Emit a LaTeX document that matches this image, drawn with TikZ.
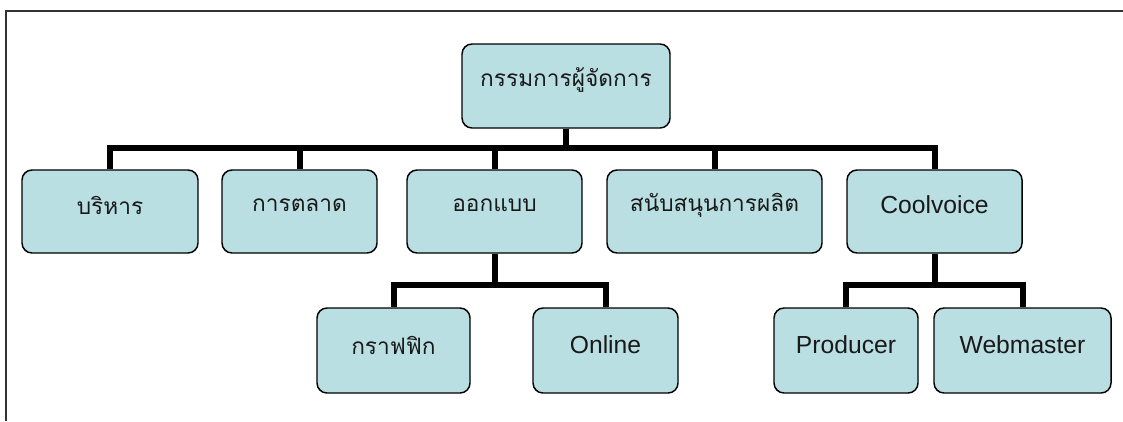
\documentclass[tikz,border=0pt]{standalone}
\usepackage{fontspec}
\setmainfont{Liberation Sans}
\newfontfamily\thaifont[Script=Thai]{Loma}
\definecolor{boxfill}{HTML}{BADFE3}
\definecolor{framecol}{HTML}{333333}
\begin{document}
\begin{tikzpicture}[x=0.75pt,y=-0.75pt,
  box/.style={draw=black,line width=1.1pt,fill=boxfill,rounded corners=7.5pt,
    minimum height=#1*0.75pt,inner sep=0pt},
  lbl/.style={font=\fontsize{17}{20}\selectfont,inner sep=0pt,text=black!90},
  latin/.style={font=\fontsize{18.5}{22}\selectfont,inner sep=0pt,text=black!90},
  conn/.style={line width=4.5pt,black}]
\useasboundingbox (0,0) rectangle (1123,421);
\fill[white] (0,0) rectangle (1123,421);
\draw[framecol,line width=1.5pt] (6,421) -- (6,11) -- (1123,11);
% level 1
\node[box=84,minimum width=208*0.75pt] (top) at (566,86) {};
% level 2
\node[box=83,minimum width=176*0.75pt] (b1) at (110,211.5) {};
\node[box=83,minimum width=155*0.75pt] (b2) at (299.5,211.5) {};
\node[box=83,minimum width=175*0.75pt] (b3) at (494.5,211.5) {};
\node[box=83,minimum width=215*0.75pt] (b4) at (714.5,211.5) {};
\node[box=83,minimum width=175*0.75pt] (b5) at (934.5,211.5) {};
% level 3
\node[box=85,minimum width=153*0.75pt] (c1) at (393.5,350.5) {};
\node[box=85,minimum width=145*0.75pt] (c2) at (605.5,350.5) {};
\node[box=85,minimum width=144*0.75pt] (c3) at (846,350.5) {};
\node[box=85,minimum width=177*0.75pt] (c4) at (1022.5,350.5) {};
% labels
\node[lbl] (ttop) at (566,80) {\thaifont กรรมการผู้จัดการ};
\node[lbl] (t1) at (110,205) {\thaifont บริหาร};
\node[lbl] (t2) at (299.5,205) {\thaifont การตลาด};
\node[lbl] (t3) at (494.5,205) {\thaifont ออกแบบ};
\node[lbl] (t4) at (714.5,205) {\thaifont สนับสนุนการผลิต};
\node[latin] (t5) at (934.5,205) {Coolvoice};
\node[lbl] (u1) at (393.5,345) {\thaifont กราฟฟิก};
\node[latin] (u2) at (605.5,345) {Online};
\node[latin] (u3) at (846,345) {Producer};
\node[latin] (u4) at (1022.5,345) {Webmaster};
% connectors
\coordinate (j1) at (566,148);
\coordinate (j3) at (494.5,285);
\coordinate (j5) at (934.5,285);
\foreach \n in {b1,b2,b3,b4,b5} \draw[conn] (top.south) -- (j1) -| (\n.north);
\foreach \n in {c1,c2} \draw[conn] (b3.south) -- (j3) -| (\n.north);
\foreach \n in {c3,c4} \draw[conn] (b5.south) -- (j5) -| (\n.north);
\end{tikzpicture}
\end{document}
